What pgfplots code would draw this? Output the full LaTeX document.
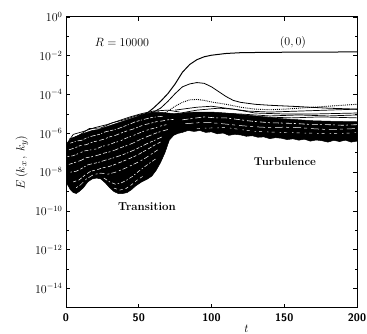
\documentclass[border=0pt]{standalone}
\usepackage{pgfplots}
\pgfplotsset{compat=1.18}
\begin{document}
\begin{tikzpicture}[x=1pt,y=1pt]
\useasboundingbox (0,0) rectangle (367,334);
\begin{axis}[
  at={(66pt,26pt)},
  scale only axis, width=291pt, height=291pt,
  xmin=0, xmax=200, ymin=-15, ymax=0,
  xtick={0,50,100,150,200}, xticklabels={0,50,100,150,200},
  ytick={-14,-12,-10,-8,-6,-4,-2,0},
  yticklabels={$10^{-14}$,$10^{-12}$,$10^{-10}$,$10^{-8}$,$10^{-6}$,$10^{-4}$,$10^{-2}$,$10^{0}$},
  minor ytick={-13,-11,-9,-7,-5,-3,-1},
  tick align=inside, major tick length=4pt, minor tick length=2.5pt,
  axis line style={line width=1pt},
  every tick/.style={black, line width=0.8pt},
  yticklabel style={font=\fontsize{12}{14}\selectfont},
  xticklabel style={font=\fontsize{11}{13}\selectfont\sffamily\bfseries, yshift=-2pt},
  ylabel={$E\,(k_x\,,\,k_y)$},
  ylabel style={font=\fontsize{13}{15}\selectfont},
  xlabel={$t$},
  xlabel style={at={(axis description cs:0.62,0)}, anchor=south, inner sep=0pt, yshift=-25pt, font=\fontsize{12}{14}\selectfont},
  clip=true,
]
% dense band (envelope)
\addplot[fill=black, draw=black, line width=0.5pt] coordinates {
(0,-6.7) (1,-6.5) (2,-6.4) (4,-6.25) (7,-6.15) (10,-6.05) (14,-5.95) (18,-5.85) (22,-5.8) (26,-5.7) (30,-5.6) (34,-5.5) (38,-5.4) (42,-5.3) (46,-5.2) (50,-5.1) (54,-5.02) (58,-4.95) (62,-4.92) (66,-4.92) (70,-4.95) (74,-4.98) (78,-4.98) (84,-4.92) (90,-4.9) (100,-4.9) (110,-4.95) (120,-5.02) (130,-5.1) (140,-5.18) (150,-5.25) (160,-5.3) (170,-5.35) (185,-5.38) (200,-5.4)
(200,-6.4) (196,-6.45) (192,-6.35) (188,-6.42) (184,-6.36) (180,-6.45) (176,-6.38) (172,-6.34) (168,-6.4) (164,-6.3) (160,-6.35) (156,-6.28) (152,-6.32) (148,-6.25) (144,-6.22) (140,-6.27) (136,-6.18) (132,-6.2) (128,-6.12) (124,-6.15) (120,-6.08) (116,-6.05) (112,-6.1) (108,-5.98) (104,-6.02) (100,-5.92) (96,-5.95) (92,-5.85) (88,-5.9) (84,-5.85) (80,-5.95) (77,-6.0) (74,-6.1) (71,-6.35) (68,-7.0) (65,-7.5) (62,-7.9) (59,-8.2) (56,-8.35) (52,-8.5) (48,-8.7) (45,-8.9) (42,-9.05) (39,-9.1) (36,-9.1) (33,-9.0) (30,-8.8) (27,-8.55) (24,-8.35) (21,-8.3) (18,-8.35) (15,-8.5) (12,-8.8) (9,-9.0) (7,-9.1) (5,-9.05) (3,-8.9) (1.5,-8.7) (0,-8.5)
} -- cycle;
% white streaks (texture in transition band)
\addplot[white, line width=0.55pt, dash pattern=on 3pt off 1.5pt on 1pt off 2pt on 5pt off 1.5pt] coordinates {(3,-6.5) (7,-6.4) (11,-6.35) (15,-6.2) (19,-6.12) (23,-6.05) (27,-5.92) (31,-5.85) (35,-5.78) (39,-5.66) (43,-5.55) (47,-5.42) (51,-5.33) (55,-5.25) (59,-5.18) (63,-5.14) (67,-5.12)};
\addplot[white, line width=0.55pt, dash pattern=on 5pt off 2pt on 2pt off 1.5pt on 3pt off 2.5pt] coordinates {(2,-6.85) (6,-6.75) (10,-6.62) (14,-6.58) (18,-6.45) (22,-6.38) (26,-6.3) (30,-6.18) (34,-6.1) (38,-5.98) (42,-5.87) (46,-5.78) (50,-5.66) (54,-5.55) (58,-5.48) (62,-5.4) (66,-5.36) (70,-5.3) (74,-5.28)};
\addplot[white, line width=0.55pt, dash pattern=on 2pt off 2pt on 4pt off 1.5pt on 1.5pt off 3pt] coordinates {(1,-7.2) (5,-7.15) (9,-7.02) (13,-6.9) (17,-6.85) (21,-6.8) (25,-6.66) (29,-6.6) (33,-6.48) (37,-6.4) (41,-6.25) (45,-6.15) (49,-6.02) (53,-5.9) (57,-5.8) (61,-5.72) (65,-5.62) (69,-5.55)};
\addplot[white, line width=0.55pt, dash pattern=on 4pt off 1.5pt on 2pt off 2.5pt on 6pt off 2pt] coordinates {(2,-7.6) (6,-7.5) (10,-7.4) (14,-7.25) (18,-7.2) (22,-7.12) (26,-7.02) (30,-6.95) (34,-6.85) (38,-6.72) (42,-6.62) (46,-6.5) (50,-6.35) (54,-6.22) (58,-6.1) (62,-5.98) (66,-5.88) (70,-5.8)};
\addplot[white, line width=0.55pt, dash pattern=on 1.5pt off 2pt on 5pt off 2pt on 3pt off 1.5pt] coordinates {(3,-8.0) (7,-7.95) (11,-7.8) (15,-7.62) (19,-7.55) (23,-7.48) (27,-7.38) (31,-7.3) (35,-7.2) (39,-7.1) (43,-6.98) (47,-6.85) (51,-6.7) (55,-6.55) (59,-6.42) (63,-6.28) (67,-6.15)};
\addplot[white, line width=0.55pt, dash pattern=on 3pt off 2.5pt on 4pt off 1.5pt] coordinates {(5,-8.5) (9,-8.4) (13,-8.15) (17,-7.95) (21,-7.88) (25,-7.78) (29,-7.72) (33,-7.62) (37,-7.5) (41,-7.38) (45,-7.25) (49,-7.12) (53,-6.95) (57,-6.78) (61,-6.6) (65,-6.45)};
\addplot[white, line width=0.5pt, dash pattern=on 2pt off 2pt on 5pt off 3pt] coordinates {(7,-8.8) (10,-8.65) (14,-8.35) (19,-8.12) (24,-8.05) (29,-8.1) (34,-8.0) (39,-7.85) (44,-7.68) (49,-7.5) (54,-7.3) (59,-7.05) (63,-6.85)};
\addplot[white, line width=0.5pt, dash pattern=on 4pt off 2pt on 1.5pt off 2pt] coordinates {(26,-8.3) (30,-8.5) (34,-8.62) (38,-8.55) (42,-8.4) (46,-8.2) (50,-7.95) (54,-7.72) (58,-7.5) (62,-7.3)};
\addplot[white, line width=0.5pt, dash pattern=on 3pt off 3pt] coordinates {(33,-8.82) (37,-8.92) (41,-8.85) (45,-8.65) (49,-8.4) (53,-8.2)};
% white streaks in turbulence band
\addplot[white, line width=0.6pt, dash pattern=on 6pt off 2pt on 2pt off 3pt] coordinates {(80,-5.3) (88,-5.22) (95,-5.15) (103,-5.2) (110,-5.2) (118,-5.28) (125,-5.35) (132,-5.4) (140,-5.45) (150,-5.47) (160,-5.5) (170,-5.55) (180,-5.55) (190,-5.58) (200,-5.55)};
\addplot[white, line width=0.5pt, dash pattern=on 8pt off 3pt on 3pt off 4pt] coordinates {(82,-5.5) (91,-5.45) (100,-5.45) (110,-5.52) (120,-5.6) (130,-5.66) (140,-5.7) (150,-5.68) (160,-5.7) (170,-5.76) (180,-5.8) (190,-5.78) (200,-5.75)};
\addplot[white, line width=0.45pt, dash pattern=on 3pt off 5pt on 1.5pt off 3pt] coordinates {(90,-5.75) (100,-5.72) (110,-5.7) (120,-5.8) (130,-5.9) (140,-5.93) (150,-5.95) (162,-5.98) (175,-6.0) (188,-6.02) (200,-5.95)};
% black lines on band top (transition)
\addplot[black, line width=0.7pt] coordinates {(0,-6.6) (5,-6.05) (12,-5.9) (20,-5.7) (28,-5.55) (36,-5.35) (44,-5.15) (52,-4.98) (60,-4.85) (70,-4.8) (78,-4.9)};
\addplot[black, line width=0.7pt] coordinates {(2,-6.3) (8,-6.15) (16,-5.75) (24,-5.72) (32,-5.45) (40,-5.3) (48,-5.1) (56,-4.95) (64,-4.88)};
% lines above band in turbulence
\addplot[black, line width=0.7pt] coordinates {(75,-4.8) (90,-4.65) (100,-4.6) (110,-4.7) (125,-4.85) (140,-4.9) (160,-4.85) (180,-4.8) (200,-4.75)};
\addplot[black, line width=0.7pt] coordinates {(75,-5.0) (90,-4.8) (105,-4.7) (115,-4.75) (130,-4.95) (150,-5.0) (170,-5.0) (200,-4.95)};
\addplot[black, line width=0.7pt] coordinates {(80,-5.1) (100,-4.95) (120,-5.0) (140,-5.1) (160,-5.05) (180,-5.1) (200,-5.05)};
\addplot[black, line width=0.7pt] coordinates {(80,-5.2) (95,-5.05) (115,-5.1) (135,-5.15) (155,-5.2) (175,-5.15) (200,-5.2)};
% dotted line
\addplot[black, line width=0.9pt, densely dotted] coordinates {(65,-5.1) (70,-4.85) (75,-4.6) (80,-4.4) (85,-4.27) (90,-4.25) (95,-4.3) (100,-4.38) (110,-4.5) (120,-4.65) (130,-4.75) (140,-4.78) (150,-4.75) (160,-4.7) (170,-4.65) (180,-4.6) (190,-4.55) (200,-4.5)};
% second solid
\addplot[black, line width=0.8pt] coordinates {(55,-5.05) (60,-4.9) (65,-4.7) (70,-4.35) (75,-3.95) (80,-3.6) (85,-3.45) (90,-3.38) (95,-3.42) (100,-3.6) (105,-3.85) (110,-4.1) (115,-4.3) (120,-4.4) (130,-4.5) (140,-4.55) (160,-4.62) (180,-4.7) (200,-4.75)};
% (0,0) mode
\addplot[black, line width=1pt] coordinates {(50,-5.1) (55,-5.0) (60,-4.7) (65,-4.35) (70,-3.95) (75,-3.45) (80,-2.85) (85,-2.45) (90,-2.2) (95,-2.05) (100,-1.97) (110,-1.88) (120,-1.84) (140,-1.82) (200,-1.8)};
% annotations
\node at (axis cs:38.5,-1.3) {\fontsize{13}{15}\selectfont $R = 10000$};
\node at (axis cs:156,-1.34) {\fontsize{13}{15}\selectfont $(0,0)$};
\node at (axis cs:150.5,-7.47) {\fontsize{11.3}{13}\selectfont\bfseries Turbulence};
\node at (axis cs:55.7,-9.8) {\fontsize{11.5}{13}\selectfont\bfseries Transition};
\end{axis}
\end{tikzpicture}
\end{document}
